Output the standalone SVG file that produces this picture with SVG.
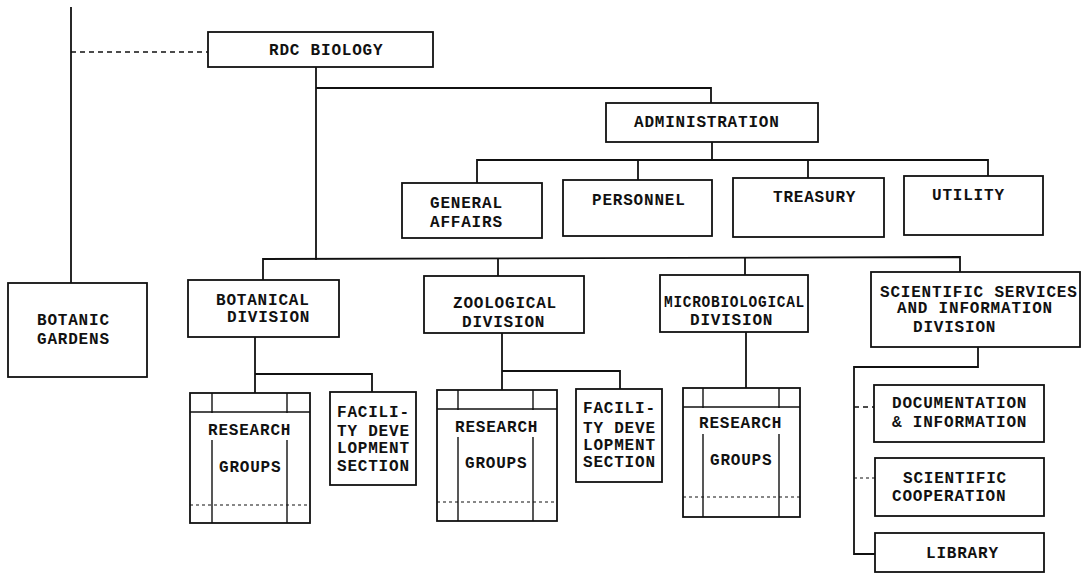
<svg xmlns="http://www.w3.org/2000/svg" width="1082" height="573" viewBox="0 0 1082 573">
  <style>
    .box { fill: #ffffff; stroke: #111111; stroke-width: 1.8; }
    .ln { fill: none; stroke: #111111; stroke-width: 1.8; }
    .thin { fill: none; stroke: #111111; stroke-width: 1.4; }
    .dash { fill: none; stroke: #111111; stroke-width: 1.6; stroke-dasharray: 5 4; }
    .dot { fill: none; stroke: #111111; stroke-width: 1.2; stroke-dasharray: 3 3; }
    text { font-family: "Liberation Mono", "Courier New", monospace; font-weight: bold; font-size: 16px; letter-spacing: 0.8px; fill: #111111; }
  </style>
  <rect width="1082" height="573" fill="#ffffff"/>

  <!-- connectors -->
  <g id="connectors">
    <line class="ln" x1="71" y1="7" x2="71" y2="283"/>
    <line class="dash" x1="71" y1="52" x2="208" y2="52"/>
    <polyline class="ln" points="316,67 316,260"/>
    <polyline class="ln" points="316,88 711,88 711,103"/>
    <line class="ln" x1="712" y1="142" x2="712" y2="160"/>
    <polyline class="ln" points="477,183 477,160 988,160 988,176"/>
    <line class="ln" x1="638" y1="160" x2="638" y2="180"/>
    <line class="ln" x1="808" y1="160" x2="808" y2="178"/>
    <polyline class="ln" points="263,280 263,259 960,257 960,272"/>
    <line class="ln" x1="498" y1="259" x2="498" y2="276"/>
    <line class="ln" x1="745" y1="258" x2="745" y2="275"/>
    <!-- botanical -->
    <line class="ln" x1="255" y1="337" x2="255" y2="393"/>
    <polyline class="ln" points="255,374 372,374 372,392"/>
    <!-- zoological -->
    <line class="ln" x1="502" y1="333" x2="502" y2="390"/>
    <polyline class="ln" points="502,371 620,371 620,389"/>
    <!-- microbiological -->
    <line class="ln" x1="746" y1="332" x2="746" y2="388"/>
    <!-- scientific services -->
    <polyline class="ln" points="978,347 978,367 854,367 854,554 875,554"/>
    <line class="dash" x1="854" y1="407" x2="874" y2="407"/>
    <line class="dot" x1="854" y1="478" x2="875" y2="478"/>
  </g>

  <g id="rdc-biology">
    <rect class="box" x="208" y="32" width="225" height="35"/>
    <text x="269" y="55">RDC BIOLOGY</text>
  </g>

  <g id="administration">
    <rect class="box" x="606" y="103" width="212" height="39"/>
    <text x="634" y="127">ADMINISTRATION</text>
  </g>

  <g id="general-affairs">
    <rect class="box" x="402" y="183" width="140" height="55"/>
    <text x="430" y="208">GENERAL</text>
    <text x="430" y="227">AFFAIRS</text>
  </g>

  <g id="personnel">
    <rect class="box" x="563" y="180" width="149" height="56"/>
    <text x="592" y="205">PERSONNEL</text>
  </g>

  <g id="treasury">
    <rect class="box" x="733" y="178" width="151" height="59"/>
    <text x="773" y="202">TREASURY</text>
  </g>

  <g id="utility">
    <rect class="box" x="904" y="176" width="139" height="59"/>
    <text x="932" y="200">UTILITY</text>
  </g>

  <g id="botanic-gardens">
    <rect class="box" x="8" y="283" width="139" height="94"/>
    <text x="37" y="325">BOTANIC</text>
    <text x="37" y="344">GARDENS</text>
  </g>

  <g id="botanical-division">
    <rect class="box" x="188" y="280" width="151" height="57"/>
    <text x="216" y="305">BOTANICAL</text>
    <text x="227" y="322">DIVISION</text>
  </g>

  <g id="zoological-division">
    <rect class="box" x="424" y="276" width="160" height="57"/>
    <text x="453" y="308">ZOOLOGICAL</text>
    <text x="462" y="327">DIVISION</text>
  </g>

  <g id="microbiological-division">
    <rect class="box" x="660" y="275" width="148" height="57"/>
    <text x="664" y="307" textLength="141" lengthAdjust="spacingAndGlyphs">MICROBIOLOGICAL</text>
    <text x="690" y="325">DIVISION</text>
  </g>

  <g id="scientific-services">
    <rect class="box" x="871" y="272" width="209" height="75"/>
    <text x="880" y="297">SCIENTIFIC SERVICES</text>
    <text x="897" y="313">AND INFORMATION</text>
    <text x="913" y="332">DIVISION</text>
  </g>

  <!-- research group blocks: outer frame, top band, broken inner columns, dotted foot line -->
  <g id="botanical-research-groups">
    <rect class="box" x="190" y="393" width="120" height="130"/>
    <line class="thin" x1="190" y1="412" x2="310" y2="412"/>
    <line class="thin" x1="212" y1="393" x2="212" y2="413"/>
    <line class="thin" x1="287" y1="393" x2="287" y2="413"/>
    <line class="thin" x1="212" y1="440" x2="212" y2="523"/>
    <line class="thin" x1="287" y1="440" x2="287" y2="523"/>
    <line class="dot" x1="190" y1="505" x2="310" y2="505"/>
    <text x="208" y="435">RESEARCH</text>
    <text x="219" y="472">GROUPS</text>
  </g>

  <g id="botanical-facility">
    <rect class="box" x="330" y="392" width="86" height="93"/>
    <text x="337" y="417">FACILI-</text>
    <text x="337" y="436">TY DEVE</text>
    <text x="337" y="453">LOPMENT</text>
    <text x="337" y="471">SECTION</text>
  </g>

  <g id="zoological-research-groups">
    <rect class="box" x="437" y="390" width="120" height="131"/>
    <line class="thin" x1="437" y1="409" x2="557" y2="409"/>
    <line class="thin" x1="458" y1="390" x2="458" y2="410"/>
    <line class="thin" x1="533" y1="390" x2="533" y2="410"/>
    <line class="thin" x1="458" y1="437" x2="458" y2="521"/>
    <line class="thin" x1="533" y1="437" x2="533" y2="521"/>
    <line class="dot" x1="437" y1="502" x2="557" y2="502"/>
    <text x="455" y="432">RESEARCH</text>
    <text x="465" y="468">GROUPS</text>
  </g>

  <g id="zoological-facility">
    <rect class="box" x="576" y="389" width="86" height="93"/>
    <text x="583" y="413">FACILI-</text>
    <text x="583" y="433">TY DEVE</text>
    <text x="583" y="450">LOPMENT</text>
    <text x="583" y="467">SECTION</text>
  </g>

  <g id="microbiological-research-groups">
    <rect class="box" x="683" y="388" width="117" height="129"/>
    <line class="thin" x1="683" y1="407" x2="800" y2="407"/>
    <line class="thin" x1="703" y1="388" x2="703" y2="408"/>
    <line class="thin" x1="779" y1="388" x2="779" y2="408"/>
    <line class="thin" x1="703" y1="434" x2="703" y2="517"/>
    <line class="thin" x1="779" y1="434" x2="779" y2="517"/>
    <line class="dot" x1="683" y1="497" x2="800" y2="497"/>
    <text x="699" y="428">RESEARCH</text>
    <text x="710" y="465">GROUPS</text>
  </g>

  <g id="documentation">
    <rect class="box" x="874" y="385" width="170" height="57"/>
    <text x="892" y="408">DOCUMENTATION</text>
    <text x="892" y="427">&amp; INFORMATION</text>
  </g>

  <g id="scientific-cooperation">
    <rect class="box" x="875" y="458" width="169" height="58"/>
    <text x="903" y="483">SCIENTIFIC</text>
    <text x="892" y="501">COOPERATION</text>
  </g>

  <g id="library">
    <rect class="box" x="875" y="533" width="169" height="39"/>
    <text x="926" y="558">LIBRARY</text>
  </g>
</svg>
